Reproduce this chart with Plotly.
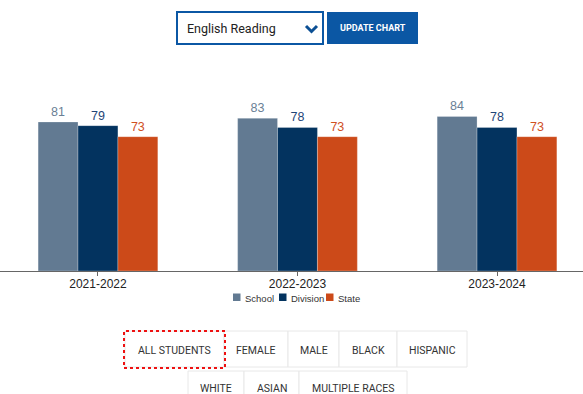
import plotly.graph_objects as go

years = ["2021-2022", "2022-2023", "2023-2024"]
school = [81, 83, 84]
division = [79, 78, 78]
state = [73, 73, 73]
series_names = ["School", "Division", "State"]
subject = "English Reading"
group_row1 = ["ALL STUDENTS", "FEMALE", "MALE", "BLACK", "HISPANIC"]
group_row2 = ["WHITE", "ASIAN", "MULTIPLE RACES"]

W, H = 583, 394
ML, MR, MT, MB = 0, 0, 87, 123
PW, PH = W - ML - MR, H - MT - MB

def px(x):
    return (x - ML) / PW

def py(y):
    return (H - MB - y) / PH

colors = ["#627a92", "#03335f", "#cc4a19"]
label_colors = ["#6a7f95", "#1f4577", "#d0501f"]

fig = go.Figure()
for name, vals, c, lc in zip(series_names, [school, division, state], colors, label_colors):
    fig.add_trace(go.Bar(
        x=years, y=vals, name=name,
        marker=dict(color=c, line=dict(color="rgba(255,255,255,0.5)", width=0.5)),
        text=[str(v) for v in vals], textposition="outside",
        textfont=dict(color=lc, size=12.5, family="Liberation Sans, Arial"),
        cliponaxis=False, showlegend=False,
    ))

shapes = []
annotations = []

# custom compact legend
legend_sq = [233, 279, 326]
for name, c, x0 in zip(series_names, colors, legend_sq):
    shapes.append(dict(type="rect", xref="paper", yref="paper",
                       x0=px(x0), x1=px(x0 + 7.5), y0=py(301), y1=py(293.5),
                       line=dict(width=0), fillcolor=c))
    annotations.append(dict(xref="paper", yref="paper", x=px(x0 + 9.5), y=py(298), text=name,
                            showarrow=False, xanchor="left", yanchor="middle",
                            font=dict(size=9.5, color="#333", family="Liberation Sans, Arial")))

# dropdown
shapes.append(dict(type="rect", xref="paper", yref="paper",
                   x0=px(177), x1=px(323), y0=py(44), y1=py(12),
                   line=dict(color="#0b57a4", width=2), fillcolor="white"))
annotations.append(dict(xref="paper", yref="paper", x=px(185), y=py(28), text=subject,
                        showarrow=False, xanchor="left", yanchor="middle",
                        font=dict(size=12.5, color="#222", family="Roboto")))
shapes.append(dict(type="path", xref="paper", yref="paper",
                   path=f"M {px(306)} {py(26)} L {px(311.5)} {py(31.5)} L {px(317)} {py(26)}",
                   line=dict(color="#0b4f94", width=3)))
# update button
shapes.append(dict(type="rect", xref="paper", yref="paper",
                   x0=px(327), x1=px(418), y0=py(44), y1=py(12),
                   line=dict(width=0), fillcolor="#0b57a4"))
annotations.append(dict(xref="paper", yref="paper", x=px(372.5), y=py(28), text="<b>UPDATE CHART</b>",
                        showarrow=False, xanchor="center", yanchor="middle",
                        font=dict(size=9, color="white", family="Roboto")))

# group buttons
row1_edges = [125, 224, 288, 339, 397, 467]
row2_edges = [188, 244, 299, 407]
for i, lab in enumerate(group_row1):
    x0, x1 = row1_edges[i], row1_edges[i + 1]
    shapes.append(dict(type="rect", xref="paper", yref="paper",
                       x0=px(x0), x1=px(x1), y0=py(367), y1=py(331),
                       line=dict(color="#e8e8e8", width=1), fillcolor="white", layer="below"))
    annotations.append(dict(xref="paper", yref="paper", x=px((x0 + x1) / 2), y=py(350), text=lab,
                            showarrow=False, xanchor="center", yanchor="middle",
                            font=dict(size=10.5, color="#333", family="Roboto")))
for i, lab in enumerate(group_row2):
    x0, x1 = row2_edges[i], row2_edges[i + 1]
    shapes.append(dict(type="rect", xref="paper", yref="paper",
                       x0=px(x0), x1=px(x1), y0=py(405), y1=py(371),
                       line=dict(color="#e8e8e8", width=1), fillcolor="white", layer="below"))
    annotations.append(dict(xref="paper", yref="paper", x=px((x0 + x1) / 2), y=py(388), text=lab,
                            showarrow=False, xanchor="center", yanchor="middle",
                            font=dict(size=10.5, color="#333", family="Roboto")))
# selected dotted outline
shapes.append(dict(type="rect", xref="paper", yref="paper",
                   x0=px(124), x1=px(225), y0=py(368), y1=py(331),
                   line=dict(color="#ee1111", width=2, dash="dot")))

fig.update_layout(
    width=W, height=H,
    margin=dict(l=ML, r=MR, t=MT, b=MB, pad=0),
    paper_bgcolor="white", plot_bgcolor="white",
    barmode="group", bargap=0.4, bargroupgap=0,
    showlegend=False,
    xaxis=dict(type="category", range=[-0.491, 2.431], showline=True, linecolor="#666",
               linewidth=1, ticks="outside", ticklen=4, tickcolor="#666",
               ticklabelstandoff=-2,
               tickfont=dict(size=12, color="#222", family="Liberation Sans, Arial"),
               showgrid=False, fixedrange=True),
    yaxis=dict(range=[0, 100], visible=False, showgrid=False, fixedrange=True),
    shapes=shapes, annotations=annotations,
    font=dict(family="Liberation Sans, Arial"),
)

fig.write_html("out.html", config={"displayModeBar": False},
               post_script="document.body.style.margin='0';document.body.style.overflow='hidden';")
